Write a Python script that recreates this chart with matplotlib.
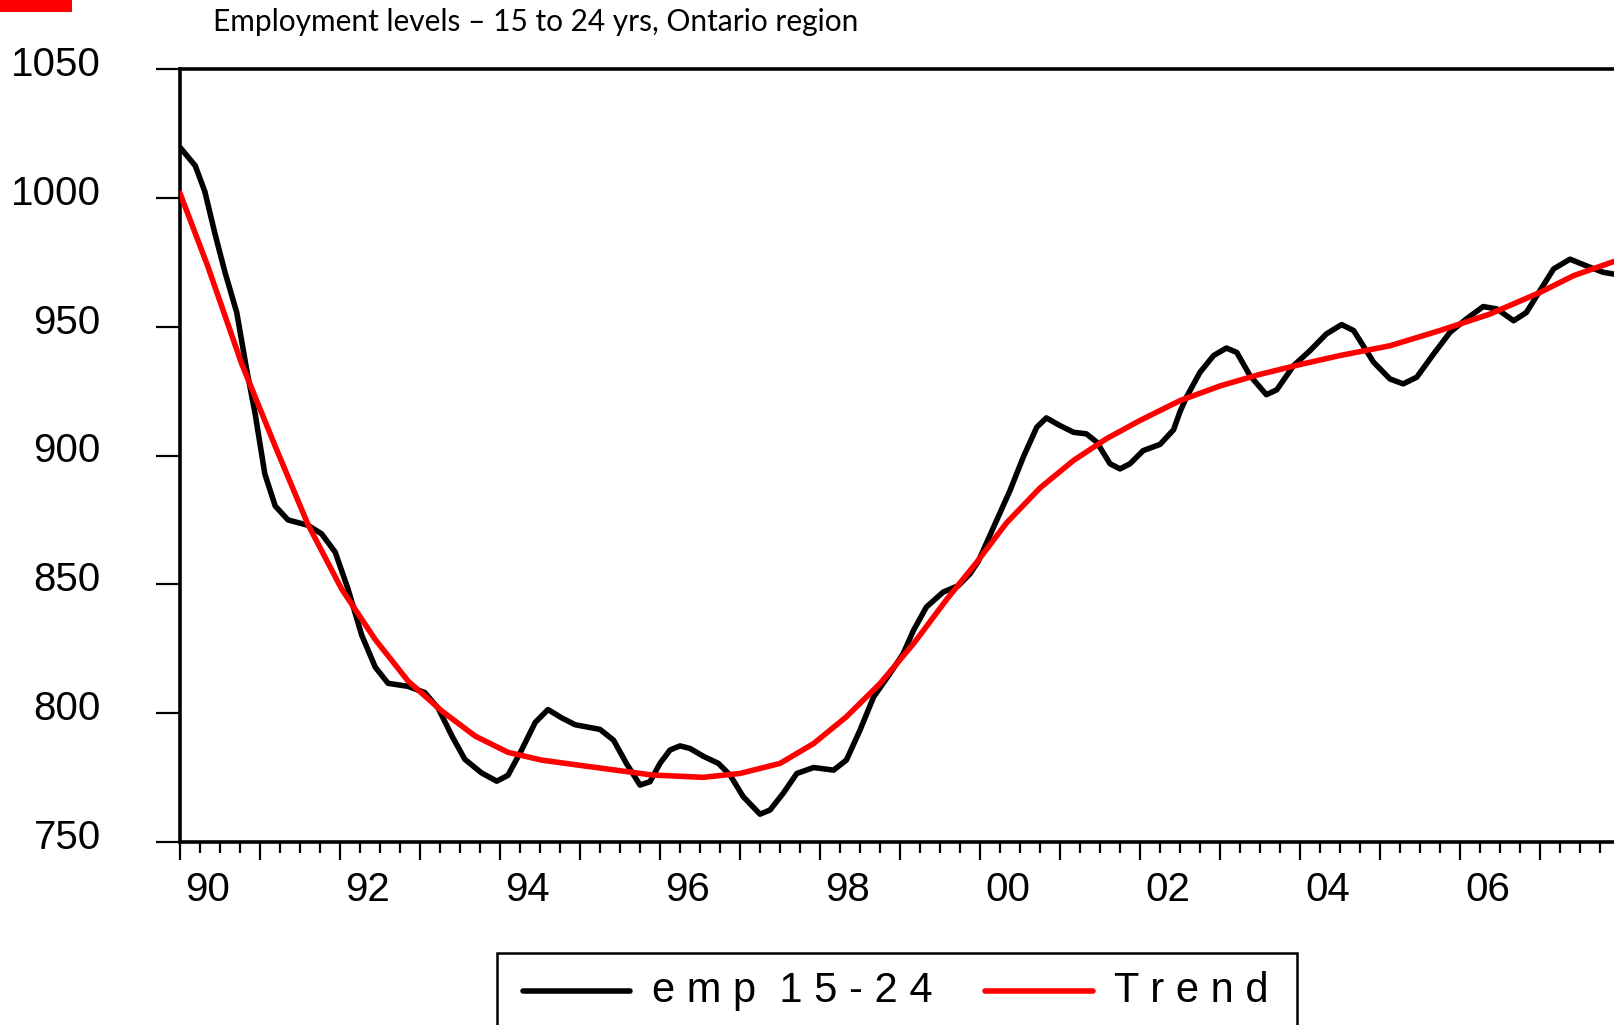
import matplotlib
matplotlib.use("Agg")
import matplotlib.pyplot as plt
import matplotlib.transforms as mtransforms
from matplotlib.lines import Line2D
from matplotlib.patches import Rectangle

# employment 15-24, Ontario (thousands)
t_emp = [1990.0, 1990.19, 1990.31, 1990.44, 1990.56, 1990.71, 1990.83, 1990.94, 1991.06, 1991.19,
         1991.35, 1991.6, 1991.77, 1991.94, 1992.1, 1992.27, 1992.44, 1992.6, 1992.85, 1993.06,
         1993.23, 1993.4, 1993.56, 1993.77, 1993.96, 1994.1, 1994.27, 1994.44, 1994.6, 1994.77,
         1994.94, 1995.25, 1995.42, 1995.58, 1995.75, 1995.875, 1996.0, 1996.125, 1996.25, 1996.375,
         1996.54, 1996.73, 1996.875, 1997.04, 1997.25, 1997.375, 1997.54, 1997.71, 1997.92, 1998.17,
         1998.33, 1998.5, 1998.67, 1998.875, 1999.04, 1999.17, 1999.33, 1999.54, 1999.73, 1999.875,
         1999.98, 2000.17, 2000.375, 2000.54, 2000.71, 2000.83, 2001.0, 2001.17, 2001.33, 2001.46,
         2001.625, 2001.75, 2001.875, 2002.04, 2002.25, 2002.42, 2002.5, 2002.58, 2002.75, 2002.92,
         2003.08, 2003.21, 2003.375, 2003.58, 2003.71, 2003.92, 2004.125, 2004.33, 2004.52, 2004.67,
         2004.92, 2005.125, 2005.29, 2005.46, 2005.67, 2005.875, 2006.08, 2006.29, 2006.46, 2006.67,
         2006.83, 2007.0, 2007.17, 2007.375, 2007.58, 2007.79, 2007.925]
emp = [1019.6, 1012.5, 1002.5, 985.7, 971.4, 955.4, 933.9, 916.1, 892.9, 880.4,
       875.0, 872.9, 869.6, 862.5, 848.2, 830.4, 817.9, 811.6, 810.4, 808.0,
       801.8, 791.1, 782.1, 776.8, 773.6, 775.9, 785.7, 796.4, 801.4, 798.2,
       795.5, 793.7, 789.5, 780.5, 772.1, 773.4, 780.5, 785.7, 787.3, 786.3,
       783.3, 780.5, 776.0, 767.6, 760.8, 762.4, 768.9, 776.6, 778.9, 777.9,
       781.8, 793.4, 806.3, 815.4, 823.1, 832.2, 841.2, 847.0, 849.5, 854.1,
       859.0, 872.2, 886.4, 899.3, 911.0, 914.6, 911.6, 909.0, 908.4, 905.2,
       896.8, 894.8, 896.8, 901.9, 904.3, 910.0, 917.0, 922.6, 932.3, 938.8,
       941.7, 940.0, 931.0, 923.6, 925.5, 934.9, 940.7, 947.2, 950.8, 948.5,
       936.2, 929.7, 927.8, 930.4, 939.4, 947.8, 953.0, 957.8, 956.9, 952.3,
       955.5, 964.0, 972.4, 976.2, 973.6, 971.1, 970.4]

t_trend = [1990.0, 1990.35, 1990.77, 1991.19, 1991.6, 1992.02, 1992.44, 1992.85, 1993.27, 1993.69,
           1994.1, 1994.52, 1994.94, 1995.3, 1995.9, 1996.54, 1997.0, 1997.5, 1997.92,
           1998.33, 1998.75, 1999.17, 1999.58, 1999.96, 2000.33, 2000.75, 2001.17, 2001.58, 2002.0,
           2002.5, 2003.0, 2003.5, 2004.0, 2004.5, 2005.125, 2005.75, 2006.375, 2007.0, 2007.42,
           2007.925]
trend = [1001.8, 973.2, 935.7, 903.6, 873.2, 848.2, 828.6, 812.5, 800.9, 791.1,
         784.8, 781.8, 780.0, 778.5, 776.0, 775.1, 776.6, 780.5, 788.2,
         798.6, 811.5, 827.0, 844.0, 858.6, 873.8, 887.4, 898.1, 906.5, 913.6,
         921.3, 927.0, 931.5, 935.3, 938.8, 942.6, 948.5, 954.9, 963.3, 969.8,
         975.3]

year_ticks = list(range(1990, 2008))
year_labels = ["90", "", "92", "", "94", "", "96", "", "98", "", "00", "", "02", "", "04", "", "06", ""]
y_ticks = [750, 800, 850, 900, 950, 1000, 1050]

title = "Employment levels \u2013 15 to 24 yrs, Ontario region"
lab_emp = "e m p  1 5 - 2 4"
lab_trend = "T r e n d"

num_font = ["Liberation Sans", "DejaVu Sans"]

W, H = 1614, 1025
fig = plt.figure(figsize=(W / 100, H / 100), dpi=100)
# the plot runs past the right edge of the picture, as in the original
ax = fig.add_axes([180 / W, 1 - 842 / H, 18 * 80 / W, (842 - 69) / H])

ax.plot(t_emp, emp, color="black", lw=4.0, solid_capstyle="round",
        solid_joinstyle="round", zorder=3)
ax.plot(t_trend, trend, color="#ff0000", lw=4.0, solid_capstyle="round",
        solid_joinstyle="round", zorder=4)

ax.set_xlim(1990, 2008)
ax.set_ylim(750, 1050)

for s in ax.spines.values():
    s.set_linewidth(2.6)

ax.set_yticks(y_ticks)
ax.set_yticklabels([str(v) for v in y_ticks], fontsize=29, family=num_font)
ax.tick_params(axis="y", direction="out", length=17, width=1.6, pad=40)
up = mtransforms.ScaledTranslation(0, 8 / 100, fig.dpi_scale_trans)
for lab in ax.get_yticklabels():
    lab.set_transform(lab.get_transform() + up)

ax.set_xticks(year_ticks)
ax.set_xticks([y + q / 4 for y in year_ticks for q in (1, 2, 3)], minor=True)
ax.set_xticklabels(year_labels, fontsize=29, family=num_font, ha="left")
ax.tick_params(axis="x", which="major", direction="out", length=13, width=1.6, pad=8)
ax.tick_params(axis="x", which="minor", direction="out", length=8, width=1.6)
shift = mtransforms.ScaledTranslation(5 / 100, 0, fig.dpi_scale_trans)
for lab in ax.get_xticklabels():
    lab.set_transform(lab.get_transform() + shift)

# title and red corner block
fig.text(213 / W, 1 - 31 / H, title, fontsize=21.5, family=["Lato", "DejaVu Sans"],
         ha="left", va="baseline")
fig.add_artist(Rectangle((0, 1 - 12 / H), 72 / W, 12 / H, transform=fig.transFigure,
                         facecolor="#ff0000", edgecolor="none"))

# legend box, cut by the bottom edge like the original
fig.add_artist(Rectangle((497 / W, -0.05), 800 / W, 0.05 + (H - 953) / H,
                         transform=fig.transFigure, facecolor="white",
                         edgecolor="black", lw=1.8))
ly = 1 - 991 / H
fig.add_artist(Line2D([523 / W, 630 / W], [ly, ly], transform=fig.transFigure,
                      color="black", lw=4.0, solid_capstyle="round"))
fig.text(652 / W, ly, lab_emp, fontsize=30, family=num_font, ha="left", va="center")
fig.add_artist(Line2D([985 / W, 1093 / W], [ly, ly], transform=fig.transFigure,
                      color="#ff0000", lw=4.0, solid_capstyle="round"))
fig.text(1114 / W, ly, lab_trend, fontsize=30, family=num_font, ha="left", va="center")

fig.savefig("out.png", dpi=100)
